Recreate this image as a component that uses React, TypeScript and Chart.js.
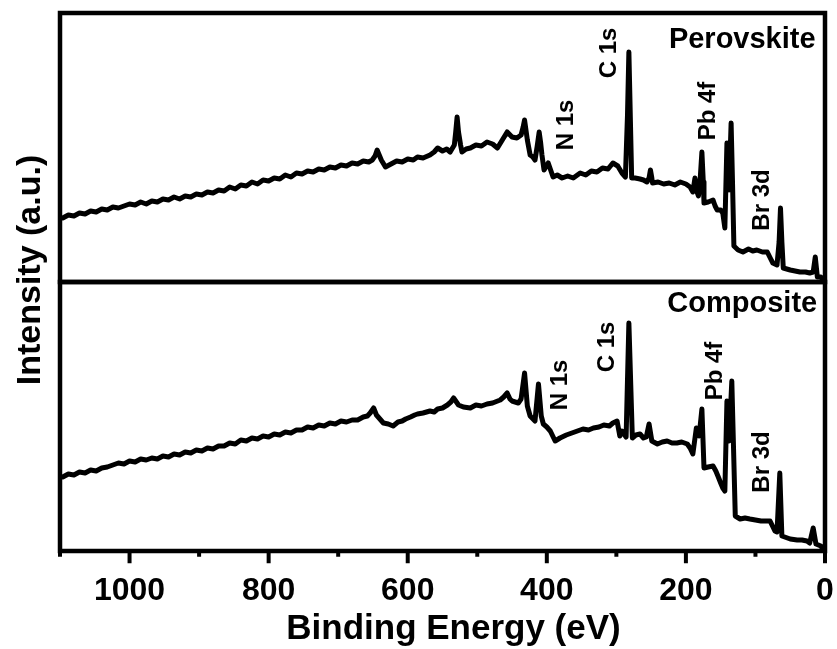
import React, { useEffect, useRef } from 'react';
import { Chart, registerables } from 'chart.js';

Chart.register(...registerables);

// Binding energy (eV) and intensity (a.u.)
const perovskiteEnergy = [
  1096, 1088, 1080, 1072, 1064, 1056, 1048, 1040, 1032, 1024, 1016, 1008, 1000, 992, 984, 976, 968, 960, 952, 944,
  936, 928, 920, 912, 904, 896, 888, 880, 872, 864, 856, 848, 840, 832, 824, 816, 808, 800, 792, 784,
  776, 768, 760, 752, 744, 736, 728, 720, 712, 704, 696, 688, 680, 672, 664, 656, 651, 647, 644, 641,
  638, 632, 624, 616, 608, 600, 592, 586, 578, 568, 562, 557, 550, 544, 539, 533, 531, 529, 527, 524,
  522, 516, 510, 502, 494, 486, 478, 471, 464, 457, 450, 443, 437, 434, 432, 430, 428, 424, 420, 417,
  414, 411, 409, 407, 404, 398, 391, 385, 378, 370, 362, 352, 344, 336, 328, 320, 312, 305, 298, 292,
  287, 284, 282, 280, 278, 273, 266, 261, 256, 253, 251, 249, 248, 240, 232, 224, 216, 208, 200, 194,
  190, 187, 184, 182, 180, 177, 175, 174, 168, 161, 158, 155, 150, 147, 144, 141, 138, 135, 133, 131,
  125, 118, 110, 104, 98, 90, 83, 78, 75, 69, 66, 64, 62, 60, 50, 36, 28, 22, 17, 14,
  11, 6, 3, 0
];
const perovskiteIntensity = [
  64, 67, 66, 69, 68, 71, 70, 73, 72, 75, 74, 76, 78, 77, 80, 78, 81, 80, 83, 82,
  85, 83, 86, 85, 88, 87, 90, 89, 92, 91, 95, 93, 97, 96, 100, 98, 102, 101, 104, 103,
  107, 105, 109, 108, 111, 110, 113, 112, 115, 114, 117, 116, 119, 118, 121, 120, 122, 126, 132, 127,
  122, 115, 118, 121, 120, 123, 122, 125, 124, 127, 130, 134, 131, 133, 130, 137, 150, 165, 150, 137,
  130, 133, 134, 137, 136, 140, 138, 134, 142, 150, 145, 144, 147, 155, 162, 152, 142, 127, 125, 122,
  135, 150, 140, 127, 112, 119, 105, 107, 104, 106, 104, 109, 107, 111, 110, 114, 113, 119, 116, 109,
  105, 167, 230, 167, 104, 104, 103, 102, 100, 104, 112, 104, 99, 100, 98, 99, 97, 100, 98, 95,
  90, 104, 90, 86, 97, 130, 100, 79, 80, 82, 76, 72, 72, 69, 54, 139, 92, 159, 100, 36,
  32, 30, 33, 31, 32, 30, 30, 23, 19, 17, 40, 74, 40, 14, 12, 10, 10, 9, 10, 25,
  5, 5, 2, 4
];

// Binding energy (eV) and intensity (a.u.)
const compositeEnergy = [
  1096, 1088, 1080, 1072, 1064, 1056, 1048, 1040, 1032, 1024, 1016, 1008, 1000, 992, 984, 976, 968, 960, 952, 944,
  936, 928, 920, 912, 904, 896, 888, 880, 872, 864, 856, 848, 840, 832, 824, 816, 808, 800, 792, 784,
  776, 768, 760, 752, 744, 736, 728, 720, 712, 704, 696, 688, 680, 672, 664, 658, 654, 649, 645, 640,
  635, 628, 621, 614, 608, 603, 596, 590, 586, 578, 568, 562, 557, 550, 543, 538, 534, 530, 527, 520,
  510, 502, 494, 486, 478, 467, 462, 457, 453, 450, 441, 437, 432, 428, 424, 417, 412, 408, 405, 400,
  395, 388, 381, 372, 364, 356, 348, 340, 333, 325, 318, 310, 305, 299, 295, 292, 286, 282, 277, 272,
  266, 261, 257, 253, 249, 241, 234, 227, 220, 213, 206, 198, 194, 190, 185, 181, 177, 174, 168, 161,
  157, 154, 150, 147, 144, 141, 138, 134, 129, 122, 115, 108, 100, 92, 83, 79, 72, 69, 65, 62,
  50, 40, 33, 26, 22, 17, 13, 6, 3, 0
];
const compositeIntensity = [
  74, 77, 76, 79, 78, 81, 80, 83, 84, 86, 88, 87, 90, 89, 92, 91, 93, 92, 95, 94,
  97, 96, 99, 98, 101, 100, 103, 102, 105, 105, 108, 107, 111, 110, 113, 112, 115, 114, 117, 116,
  119, 118, 121, 121, 124, 123, 126, 125, 128, 127, 130, 129, 131, 131, 134, 135, 138, 143, 136, 132,
  128, 127, 125, 129, 130, 132, 134, 136, 137, 138, 140, 139, 142, 143, 146, 149, 153, 149, 146, 144,
  143, 146, 145, 147, 148, 151, 154, 158, 152, 150, 148, 152, 178, 145, 135, 130, 167, 135, 127, 124,
  120, 110, 113, 116, 118, 120, 122, 121, 123, 124, 126, 125, 128, 130, 115, 120, 114, 228, 113, 116,
  117, 113, 114, 127, 110, 107, 109, 110, 108, 108, 109, 107, 103, 97, 123, 115, 142, 83, 84, 85,
  80, 75, 68, 63, 60, 150, 110, 170, 35, 32, 33, 32, 31, 30, 30, 30, 20, 19, 78, 15,
  12, 11, 11, 10, 8, 23, 7, 5, 2, 1
];

const majorTicks = [0, 200, 400, 600, 800, 1000];
const minorTicks = [100, 300, 500, 700, 900, 1100];

const xTitle = 'Binding Energy (eV)';
const yTitle = 'Intensity (a.u.)';

const peakLabels = [
  { text: 'Perovskite', panel: 'yTop', e: 119, v: 242, vertical: false, size: 29 },
  { text: 'N 1s', panel: 'yTop', e: 372, v: 157, vertical: true, size: 24 },
  { text: 'C 1s', panel: 'yTop', e: 310, v: 229, vertical: true, size: 24 },
  { text: 'Pb 4f', panel: 'yTop', e: 167, v: 171, vertical: true, size: 24 },
  { text: 'Br 3d', panel: 'yTop', e: 90, v: 82, vertical: true, size: 24 },
  { text: 'Composite', panel: 'yBot', e: 119, v: 247, vertical: false, size: 29 },
  { text: 'N 1s', panel: 'yBot', e: 381, v: 166, vertical: true, size: 24 },
  { text: 'C 1s', panel: 'yBot', e: 313, v: 204, vertical: true, size: 24 },
  { text: 'Pb 4f', panel: 'yBot', e: 158, v: 180, vertical: true, size: 24 },
  { text: 'Br 3d', panel: 'yBot', e: 90, v: 89, vertical: true, size: 24 },
];

const FONT = '"Liberation Sans", Arial, Helvetica, sans-serif';

const framePlugin = {
  id: 'xpsFrame',
  afterDatasetsDraw(chart: any) {
    const { ctx, chartArea, scales } = chart;
    const x = scales.x;
    ctx.save();
    ctx.fillStyle = '#000';
    ctx.textAlign = 'center';
    ctx.textBaseline = 'middle';
    for (const l of peakLabels) {
      const ys = scales[l.panel];
      const px = x.getPixelForValue(l.e);
      const py = ys.getPixelForValue(l.v);
      ctx.font = `bold ${l.size}px ${FONT}`;
      ctx.save();
      ctx.translate(px, py);
      if (l.vertical) ctx.rotate(-Math.PI / 2);
      ctx.fillText(l.text, 0, 0);
      ctx.restore();
    }
    // axis titles
    ctx.font = `bold 34px ${FONT}`;
    ctx.save();
    ctx.translate(31, (chartArea.top + chartArea.bottom) / 2 - 12);
    ctx.rotate(-Math.PI / 2);
    ctx.fillText(yTitle, 0, 0);
    ctx.restore();
    ctx.font = `bold 35px ${FONT}`;
    ctx.fillText(xTitle, (chartArea.left + chartArea.right) / 2 + 11, chartArea.bottom + 78);

    // panel frames
    ctx.strokeStyle = '#000';
    ctx.lineWidth = 4.5;
    for (const id of ['yTop', 'yBot']) {
      const s = scales[id];
      ctx.strokeRect(chartArea.left, s.top, chartArea.right - chartArea.left, s.bottom - s.top);
    }
    // ticks
    ctx.lineWidth = 4;
    ctx.lineCap = 'butt';
    const yb = chartArea.bottom;
    const drawTick = (v: number, len: number) => {
      const px = x.getPixelForValue(v);
      ctx.beginPath();
      ctx.moveTo(px, yb);
      ctx.lineTo(px, yb + 2.25 + len);
      ctx.stroke();
    };
    majorTicks.forEach((v) => drawTick(v, 10));
    minorTicks.forEach((v) => drawTick(v, 3.5));
    ctx.restore();
  },
};

export default function App() {
  const ref = useRef<HTMLCanvasElement | null>(null);
  useEffect(() => {
    if (!ref.current) return;
    const chart = new Chart(ref.current, {
      type: 'line',
      data: {
        datasets: [
          {
            label: 'Perovskite',
            data: perovskiteEnergy.map((e, i) => ({ x: e, y: perovskiteIntensity[i] })),
            xAxisID: 'x',
            yAxisID: 'yTop',
            borderColor: '#000',
            borderWidth: 5,
            pointRadius: 0,
            tension: 0,
            borderJoinStyle: 'round',
            borderCapStyle: 'round',
          },
          {
            label: 'Composite',
            data: compositeEnergy.map((e, i) => ({ x: e, y: compositeIntensity[i] })),
            xAxisID: 'x',
            yAxisID: 'yBot',
            borderColor: '#000',
            borderWidth: 5,
            pointRadius: 0,
            tension: 0,
            borderJoinStyle: 'round',
            borderCapStyle: 'round',
          },
        ],
      },
      options: {
        animation: false,
        responsive: false,
        devicePixelRatio: 1,
        layout: { padding: { left: 60, right: 12, top: 13, bottom: 0 } },
        plugins: { legend: { display: false }, tooltip: { enabled: false }, title: { display: false } },
        scales: {
          x: {
            type: 'linear',
            position: 'bottom',
            reverse: true,
            min: 0,
            max: 1100,
            grid: { display: false, drawTicks: false },
            border: { display: false },
            ticks: {
              stepSize: 100,
              autoSkip: false,
              maxRotation: 0,
              includeBounds: false,
              padding: 21,
              color: '#000',
              font: { family: FONT, size: 32, weight: 'bold', lineHeight: 1.2 },
              callback: (v: any) => (Number(v) % 200 === 0 ? String(v) : ''),
            },
            title: { display: false },
            afterFit: (s: any) => {
              s.height = 98;
              s.paddingLeft = 0;
              s.paddingRight = 0;
            },
          },
          yBot: {
            type: 'linear',
            position: 'left',
            stack: 'panels',
            stackWeight: 1,
            weight: 1,
            min: 0,
            max: 269,
            grid: { display: false, drawTicks: false },
            border: { display: false },
            ticks: { display: false },
            afterFit: (s: any) => {
              s.width = 0;
              s.paddingTop = 0;
              s.paddingBottom = 0;
            },
          },
          yTop: {
            type: 'linear',
            position: 'left',
            stack: 'panels',
            stackWeight: 1,
            weight: 2,
            min: 0,
            max: 269,
            grid: { display: false, drawTicks: false },
            border: { display: false },
            ticks: { display: false },
            afterFit: (s: any) => {
              s.width = 0;
              s.paddingTop = 0;
              s.paddingBottom = 0;
            },
          },
        },
      } as any,
      plugins: [framePlugin],
    });
    return () => chart.destroy();
  }, []);
  return (
    <div style={{ position: 'absolute', left: 0, top: 0, width: 837, height: 649, background: '#fff' }}>
      <canvas ref={ref} width={837} height={649} style={{ display: 'block', width: 837, height: 649 }} />
    </div>
  );
}
